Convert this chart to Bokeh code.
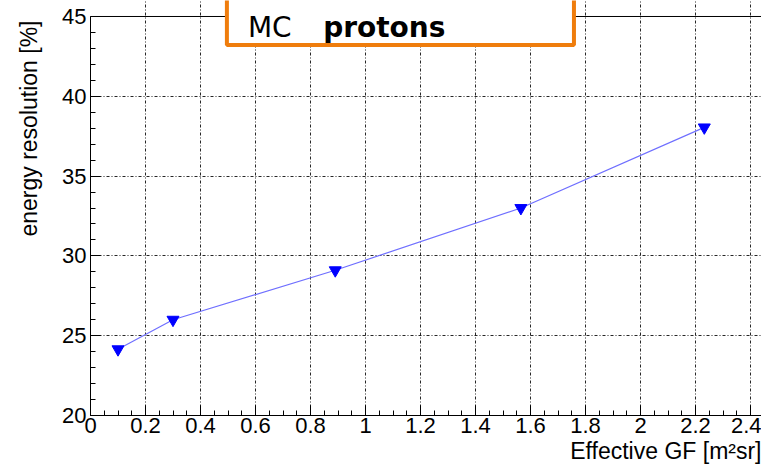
from bokeh.plotting import figure
from bokeh.models import FixedTicker, Range1d, Label, BoxAnnotation, Span, Title, LinearAxis
from bokeh.embed import file_html
from bokeh.resources import INLINE

# data
gf = [0.1, 0.3, 0.89, 1.565, 2.232]
resolution = [24.15, 26.0, 29.1, 33.0, 38.05]
x_ticks = [0, 0.2, 0.4, 0.6, 0.8, 1.0, 1.2, 1.4, 1.6, 1.8, 2.0, 2.2, 2.4]
x_tick_labels = ["0", "0.2", "0.4", "0.6", "0.8", "1", "1.2", "1.4", "1.6", "1.8", "2", "2.2", "2.4"]
y_ticks = [20, 25, 30, 35, 40, 45]
y_tick_labels = ["20", "25", "30", "35", "40", "45"]
x_minor = [round(i * 0.05, 2) for i in range(0, 49)]
y_minor = list(range(20, 46))

FONT = "Liberation Sans"
Y0, Y1 = 20, 45
Y_TOP = 46.0025   # a bit of headroom above the frame for the annotation box
X_END = 2.440

p = figure(width=761, height=467, output_backend="svg", toolbar_location=None,
           x_range=Range1d(0, X_END), y_range=Range1d(Y0, Y_TOP),
           min_border_left=90, min_border_right=0, min_border_top=0, min_border_bottom=52)
p.background_fill_color = "white"
p.border_fill_color = "white"
p.outline_line_color = None

for ax, ticks, labels, minor in ((p.xaxis[0], x_ticks, x_tick_labels, x_minor),
                                 (p.yaxis[0], y_ticks, y_tick_labels, y_minor)):
    ax.ticker = FixedTicker(ticks=ticks, minor_ticks=minor)
    ax.major_label_overrides = {t: l for t, l in zip(ticks, labels)}
    ax.major_tick_in = 10
    ax.major_tick_out = 0
    ax.minor_tick_in = 5
    ax.minor_tick_out = 0
    ax.axis_line_color = "black"
    ax.major_tick_line_color = "black"
    ax.minor_tick_line_color = "black"
    ax.major_label_text_font = FONT
    ax.major_label_text_font_size = "22px"
    ax.major_label_text_color = "black"
    ax.axis_label_standoff = 0
p.yaxis.bounds = (Y0, Y1)
p.xaxis.major_label_standoff = 2
p.yaxis.major_label_standoff = 4

# right spine
rax = LinearAxis(ticker=FixedTicker(ticks=[]), bounds=(Y0, Y1), axis_line_color="black",
                 major_tick_in=0, major_tick_out=0, minor_tick_in=0, minor_tick_out=0,
                 major_label_text_font_size="0px", axis_label_standoff=0)
p.add_layout(rax, "right")

p.grid.grid_line_color = "black"
p.grid.grid_line_dash = "3 2 1 2"
p.grid.grid_line_width = 1
p.grid.grid_line_alpha = 0.85
p.xgrid.ticker = FixedTicker(ticks=x_ticks[1:])
p.xgrid.bounds = (Y0, Y1)
p.ygrid.ticker = FixedTicker(ticks=y_ticks[1:-1])

# top spine
p.add_layout(Span(location=Y1, dimension="width", line_color="black", line_width=1))

p.line(gf, resolution, line_color="#6f6fff", line_width=1.2)
p.scatter(gf, resolution, marker="inverted_triangle", size=12, fill_color="#0000ff", line_color="#0000ff")

# axis titles
p.add_layout(Title(text="Effective GF [m²sr]", align="right", text_font=FONT,
                   text_font_size="23px", text_font_style="normal", text_color="black",
                   standoff=1, offset=0), "below")
p.add_layout(Title(text="energy resolution [%]", align="right", vertical_align="top",
                   text_font=FONT, text_font_size="23px", text_font_style="normal",
                   text_color="black", standoff=31, offset=20), "left")

# annotation box
p.add_layout(BoxAnnotation(left=0.496, right=1.758, bottom=43.214, top=48.0,
                           fill_color="white", fill_alpha=1.0,
                           line_color="#ef7d0d", line_width=4, line_alpha=1.0))
p.add_layout(Label(x=0.5726, y=44.31, text="MC", text_align="left", text_baseline="alphabetic",
                   text_font="DejaVu Sans", text_font_size="28px", text_color="black"))
p.add_layout(Label(x=0.846, y=44.31, text="protons", text_align="left", text_baseline="alphabetic",
                   text_font="DejaVu Sans", text_font_style="bold", text_font_size="28px", text_color="black"))

open("out.html", "w").write(file_html(p, INLINE))
